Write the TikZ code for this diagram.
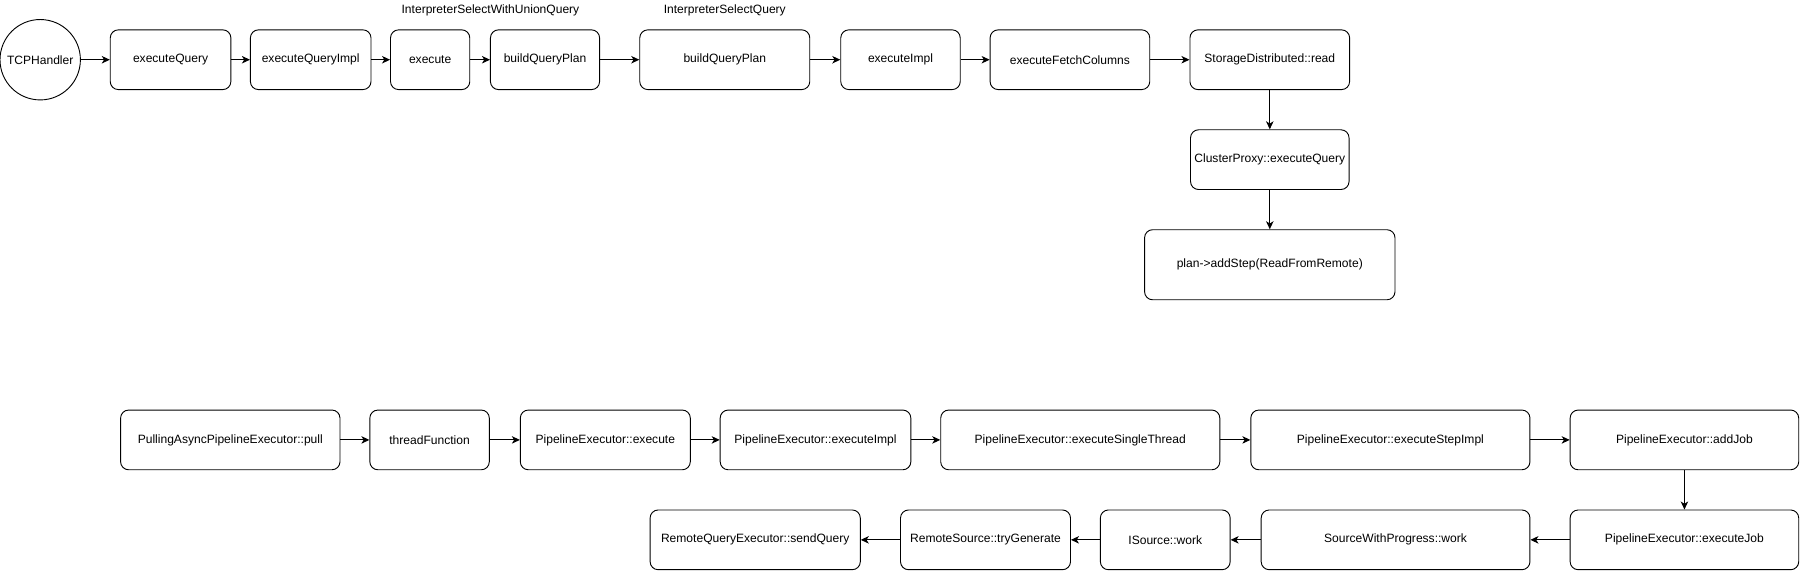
\documentclass[tikz,border=0pt]{standalone}
\usepackage{fontspec}
\setmainfont{Liberation Sans}
\usetikzlibrary{arrows.meta}
\begin{document}
\begin{tikzpicture}[x=1pt,y=-1pt,
  box/.style={draw, rounded corners=7pt, line width=0.8pt, inner sep=0pt, minimum height=52pt, font=\fontsize{10.5}{12}\selectfont},
  circ/.style={draw, circle, line width=0.8pt, inner sep=0pt, minimum size=70pt, font=\fontsize{10.5}{12}\selectfont},
  lbl/.style={inner sep=0pt, font=\fontsize{10.5}{12}\selectfont},
  arr/.style={line width=0.8pt, -{Stealth[length=7pt,width=6.5pt,inset=2pt]}}]
\useasboundingbox (0,0) rectangle (1568,497.1);
% top row
\node[circ] (tcp) at (35,52) {TCPHandler};
\node[box, minimum width=105pt] (eq) at (148.5,52) {executeQuery};
\node[box, minimum width=105pt] (eqi) at (270.5,52) {executeQueryImpl};
\node[box, minimum width=69pt] (ex) at (374.5,52) {execute};
\node[box, minimum width=95pt] (bqp1) at (474.5,52) {buildQueryPlan};
\node[box, minimum width=148pt] (bqp2) at (631,52) {buildQueryPlan};
\node[box, minimum width=104pt] (ei) at (784,52) {executeImpl};
\node[box, minimum width=139pt] (efc) at (931.5,52) {executeFetchColumns};
\node[box, minimum width=139pt] (sdr) at (1105.5,52) {StorageDistributed::read};
\node[box, minimum width=138pt] (cp) at (1105.5,139) {ClusterProxy::executeQuery};
\node[box, minimum width=218pt, minimum height=61pt] (plan) at (1105.5,230.5) {plan->addStep(ReadFromRemote)};
\node[lbl] (l1) at (427,9) {InterpreterSelectWithUnionQuery};
\node[lbl] (l2) at (631,9) {InterpreterSelectQuery};
\draw[arr] (tcp) -- (eq);
\draw[arr] (eq) -- (eqi);
\draw[arr] (eqi) -- (ex);
\draw[arr] (ex) -- (bqp1);
\draw[arr] (bqp1) -- (bqp2);
\draw[arr] (bqp2) -- (ei);
\draw[arr] (ei) -- (efc);
\draw[arr] (efc) -- (sdr);
\draw[arr] (sdr) -- (cp);
\draw[arr] (cp) -- (plan);
% bottom rows
\node[box, minimum width=191pt] (pull) at (200.5,383) {PullingAsyncPipelineExecutor::pull};
\node[box, minimum width=104pt] (tf) at (374,383) {threadFunction};
\node[box, minimum width=148pt] (pe) at (527,383) {PipelineExecutor::execute};
\node[box, minimum width=166pt] (pei) at (710,383) {PipelineExecutor::executeImpl};
\node[box, minimum width=243pt] (pst) at (940.5,383) {PipelineExecutor::executeSingleThread};
\node[box, minimum width=243pt] (psi) at (1210.5,383) {PipelineExecutor::executeStepImpl};
\node[box, minimum width=199pt] (aj) at (1466.5,383) {PipelineExecutor::addJob};
\node[box, minimum width=199pt] (ej) at (1466.5,470) {PipelineExecutor::executeJob};
\node[box, minimum width=234pt] (sw) at (1215,470) {SourceWithProgress::work};
\node[box, minimum width=113pt] (is) at (1014.5,470) {ISource::work};
\node[box, minimum width=148pt] (rs) at (858,470) {RemoteSource::tryGenerate};
\node[box, minimum width=183pt] (rq) at (657.5,470) {RemoteQueryExecutor::sendQuery};
\draw[arr] (pull) -- (tf);
\draw[arr] (tf) -- (pe);
\draw[arr] (pe) -- (pei);
\draw[arr] (pei) -- (pst);
\draw[arr] (pst) -- (psi);
\draw[arr] (psi) -- (aj);
\draw[arr] (aj) -- (ej);
\draw[arr] (ej) -- (sw);
\draw[arr] (sw) -- (is);
\draw[arr] (is) -- (rs);
\draw[arr] (rs) -- (rq);
\end{tikzpicture}
\end{document}
